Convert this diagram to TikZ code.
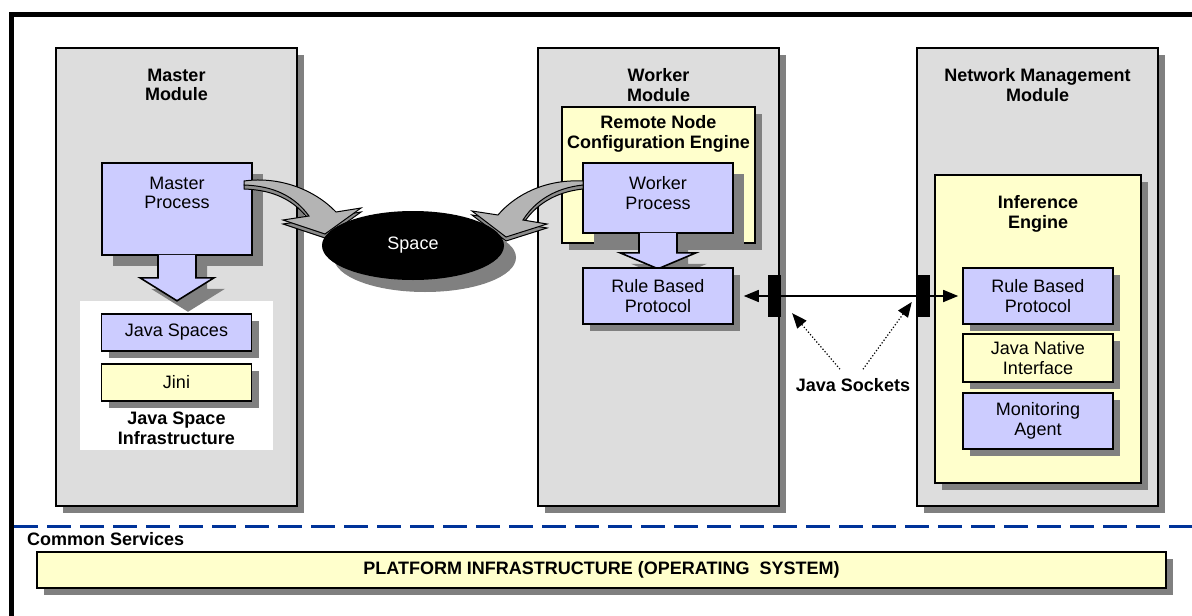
\documentclass[tikz,border=0pt]{standalone}
\usepackage{fontspec}
\setmainfont{Liberation Sans}
\usetikzlibrary{shapes.geometric,shadows,arrows.meta}

\definecolor{modgray}{HTML}{DDDDDD}
\definecolor{shadowgray}{HTML}{808080}
\definecolor{lavender}{HTML}{CCCCFF}
\definecolor{softyellow}{HTML}{FFFFCC}
\definecolor{arrowgray}{HTML}{B4B4B4}
\definecolor{arrowside}{HTML}{8C8C8C}
\definecolor{dashblue}{HTML}{003399}

\newcommand{\diagfont}{\fontsize{18}{19.6}\selectfont}
\newcommand{\diagbold}{\fontsize{18}{19.6}\selectfont\bfseries}

\tikzset{
  boxshadow/.style={drop shadow={shadow xshift=7pt,shadow yshift=-7pt,fill=shadowgray,opacity=1}},
  procshadow/.style={drop shadow={shadow xshift=11pt,shadow yshift=-11pt,fill=shadowgray,opacity=1}},
  module/.style={draw, line width=1.6pt, fill=modgray, boxshadow, minimum width=241pt, minimum height=458pt, inner sep=0pt},
  engine/.style={draw, line width=1.6pt, fill=softyellow, boxshadow, inner sep=0pt},
  unit/.style={draw, line width=1.6pt, fill=lavender, boxshadow, minimum width=150pt, inner sep=0pt, align=center},
  yunit/.style={draw, line width=1.6pt, fill=softyellow, boxshadow, minimum width=150pt, inner sep=0pt, align=center},
  procbox/.style={draw, line width=1.6pt, fill=lavender, procshadow, minimum width=150pt, inner sep=0pt},
  procarrow/.style={line width=1.6pt, fill=lavender, procshadow},
  heading/.style={font=\diagbold, align=center, inner sep=0pt},
  txt/.style={align=center, inner sep=0pt},
  flow/.style={draw, line width=1pt, fill=arrowgray,
    copy shadow={shadow xshift=0pt, shadow yshift=-4pt, fill=arrowside, draw=black, line width=1pt}},
  socket/.style={fill=black, minimum width=13pt, minimum height=42pt, inner sep=0pt},
  link/.style={line width=1.6pt, >={Triangle[length=15pt,width=12pt]}},
  probe/.style={dotted, line width=1.2pt, -{Triangle[length=15pt,width=12pt]}},
  divider/.style={draw=dashblue, line width=3pt, dash pattern=on 24pt off 9pt}
}

\begin{document}
\begin{tikzpicture}[x=1pt, y=-1pt, every node/.style={font=\diagfont}]
  \useasboundingbox (0,0) rectangle (1192,616);

  % outer frame
  \draw[line width=5pt] (11,616) -- (11,14) -- (1192,14);

  % modules
  \node[module] (mm) at (176.5,277) {};
  \node[module] (wm) at (658.5,277) {};
  \node[module] (nm) at (1037.5,277) {};
  \node[heading] (mmtitle) at (176.5,85) {Master\\Module};
  \node[heading] (wmtitle) at (658.5,85) {Worker\\Module};
  \node[heading] (nmtitle) at (1037.5,85) {Network Management\\Module};

  % master module
  \node[fill=white, minimum width=193pt, minimum height=149pt, inner sep=0pt] (jsi) at (176.5,375.5) {};
  \node[procbox, minimum height=92pt] (mp) at (177,209) {};
  \node[txt] (mptext) at (177,193) {Master\\Process};
  \filldraw[procarrow, shift={(mp.south)}] (-19,-1) -- (-19,22) -- (-37,22) -- (0,45) -- (37,22) -- (19,22) -- (19,-1);
  \node[unit, minimum height=37pt] (js) at (176.5,332.5) {Java Spaces};
  \node[yunit, minimum height=37pt] (jini) at (176.5,382.5) {Jini};
  \node[heading] (jsititle) at (176.5,428) {Java Space\\Infrastructure};

  % worker module
  \node[engine, minimum width=193pt, minimum height=136pt] (rnce) at (658.5,175) {};
  \node[heading] (rncetitle) at (658.5,134) {Remote Node\\Configuration Engine};
  \node[procbox, minimum height=70pt] (wp) at (658,198) {};
  \node[txt] (wptext) at (658,193) {Worker\\Process};
  \filldraw[procarrow, shift={(wp.south)}] (-19,-1) -- (-19,19) -- (-38,19) -- (0,35) -- (38,19) -- (19,19) -- (19,-1);
  \node[unit, minimum height=56pt] (wrbp) at (658,296) {Rule Based\\Protocol};

  % network management module
  \node[engine, minimum width=206pt, minimum height=308pt] (ie) at (1038,329) {};
  \node[heading] (ietitle) at (1038,214) {Inference\\Engine};
  \node[unit, minimum height=56pt] (nrbp) at (1038,296) {Rule Based\\Protocol};
  \node[yunit, minimum height=48pt] (jni) at (1038,358) {Java Native\\Interface};
  \node[unit, minimum height=56pt] (ma) at (1038,421) {Monitoring\\Agent};

  % take / write into the space
  \path[flow] (244,181) .. controls (280,176) and (315,190) .. (336,212) -- (361,208)
    -- (325,234) -- (283,220) -- (309,216) .. controls (295,197) and (275,186) .. (244,185) -- cycle;
  \path[flow] (583,181) .. controls (545,179) and (515,195) .. (498,215) -- (472,211)
    -- (506,237) -- (547,224) -- (523,220) .. controls (535,201) and (555,188) .. (583,185) -- cycle;
  \node[ellipse, fill=black, text=white, minimum width=182pt, minimum height=69pt,
    drop shadow={shadow xshift=12pt,shadow yshift=-12pt,fill=shadowgray,opacity=1}] (space) at (413,245.5) {Space};

  % sockets
  \draw[link, <->] ([xshift=10pt]wrbp.east) -- ([xshift=-4pt]nrbp.west);
  \node[socket] (lsock) at (774.5,296) {};
  \node[socket] (rsock) at (923.5,296) {};
  \node[heading] (jsock) at (853,385) {Java Sockets};
  \draw[probe] ([shift={(-13,-9)}]jsock.north) -- ([shift={(11,-4)}]lsock.south east);
  \draw[probe] ([shift={(10,-9)}]jsock.north) -- ([shift={(-5,6)}]rsock.west);

  % common services
  \draw[divider] (14,526) -- (1192,526);
  \node[heading, anchor=base west] (cs) at (27,545) {Common Services};
  \node[yunit, minimum width=1129pt, minimum height=36pt, font=\diagbold] (plat) at (601.5,570) {PLATFORM INFRASTRUCTURE (OPERATING\ \ SYSTEM)};
\end{tikzpicture}
\end{document}
